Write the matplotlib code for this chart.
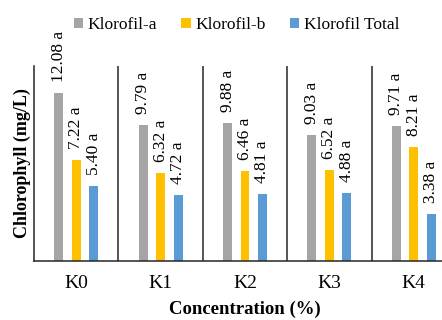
import numpy as np
import matplotlib
matplotlib.use("Agg")
import matplotlib.pyplot as plt

plt.rcParams['font.family'] = ['Liberation Serif', 'DejaVu Serif']

# data
categories = ["K0", "K1", "K2", "K3", "K4"]
klorofil_a = [12.08, 9.79, 9.88, 9.03, 9.71]
klorofil_b = [7.22, 6.32, 6.46, 6.52, 8.21]
klorofil_total = [5.40, 4.72, 4.81, 4.88, 3.38]
notation = ["a", "a", "a", "a", "a"]

series = [("Klorofil-a", klorofil_a, "#A5A5A5"),
          ("Klorofil-b", klorofil_b, "#FFC000"),
          ("Klorofil Total", klorofil_total, "#5B9BD5")]

fig = plt.figure(figsize=(4.42, 3.2), dpi=100)
# axes runs past the right edge, like the cropped original
ax = fig.add_axes([34 / 442, 59 / 320, 422 / 442, 195 / 320])

x = np.arange(len(categories))
width = 0.105
offsets = [-0.207, 0.0, 0.207]

for (name, vals, color), off in zip(series, offsets):
    bars = ax.bar(x + off, vals, width, color=color, label=name)
    for b, v, n in zip(bars, vals, notation):
        ax.annotate(f"{v:.2f} {n}", (b.get_x() + b.get_width() / 2, v),
                    xytext=(0, 8), textcoords="offset points",
                    rotation=90, ha="center", va="bottom", fontsize=12.5)

ax.set_xlim(-0.5, len(categories) - 0.5)
ax.set_ylim(0, 14)

# category separators
for b in np.arange(0.5, len(categories) - 0.5, 1):
    ax.axvline(b, color="#262626", lw=1.1)

for s in ["top", "right"]:
    ax.spines[s].set_visible(False)
ax.spines["left"].set_color("#262626")
ax.spines["bottom"].set_color("#262626")
ax.spines["left"].set_linewidth(1.1)
ax.spines["bottom"].set_linewidth(1.1)

ax.set_yticks([])
ax.set_xticks(x)
ax.set_xticklabels(categories, fontsize=14)
ax.tick_params(axis="x", length=0, pad=10)

ax.set_xlabel("Concentration (%)", fontsize=13.5, fontweight="bold", labelpad=6)
ax.set_ylabel("Chlorophyll (mg/L)", fontsize=13, fontweight="bold", labelpad=2)

fig.legend(loc="center", bbox_to_anchor=(0.535, 0.922), ncol=3, frameon=False,
           fontsize=12.5, handlelength=0.55, handleheight=0.55, handletextpad=0.25,
           columnspacing=1.4)

plt.savefig("out.png", dpi=100)
